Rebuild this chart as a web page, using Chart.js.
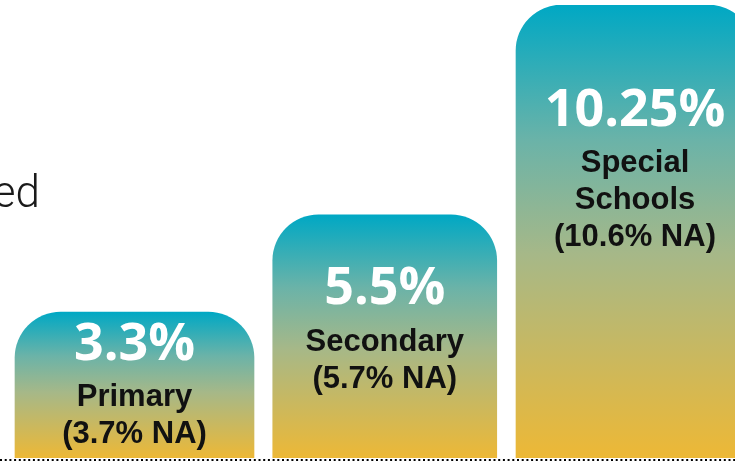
<!DOCTYPE html>
<html>
<head>
<meta charset="utf-8">
<script src="https://cdn.jsdelivr.net/npm/chart.js@4.4.1/dist/chart.umd.min.js"></script>
<style>
	html, body { margin:0; padding:0; background:#fff; overflow:hidden; }
	#wrap { position:relative; width:770px; height:464px; }
</style>
</head>
<body>
<div id="wrap"><canvas id="c"></canvas></div>
<script>
const categories = [['Primary'], ['Secondary'], ['Special', 'Schools']];
const rates = [3.3, 5.5, 10.25];
const naRates = [3.7, 5.7, 10.6];
const sideText = 'ed';

const warna = { top:'#00A8C4', dots:'#000', text:'#111' };
const barW = [239, 224, 238];

// gradient runs from each bar's own top down to the baseline
const barFill = c => {
	const chart = c.chart
	if (!chart.chartArea || c.raw == null) return '#EDB836'
	const y = chart.scales.y
	const g = chart.ctx.createLinearGradient(0, y.getPixelForValue(c.raw), 0, y.getPixelForValue(0))
	g.addColorStop(0, warna.top)
	g.addColorStop(0.3, '#6BB3A8')
	g.addColorStop(0.55, '#A6B888')
	g.addColorStop(1, '#EDB836')
	return g
}

const dotsLine = {
	id: 'dotsLine',
	beforeDatasetsDraw: chart => {
		const ctx = chart.ctx
		const y0 = chart.scales.y.getPixelForValue(0) + 2
		ctx.save()
		ctx.strokeStyle = warna.dots
		ctx.lineWidth = 2
		ctx.setLineDash([2, 2.7])
		ctx.beginPath()
		ctx.moveTo(0, y0)
		ctx.lineTo(chart.width, y0)
		ctx.stroke()
		ctx.restore()
	}
}

const barText = {
	id: 'barText',
	afterDatasetsDraw: chart => {
		const ctx = chart.ctx
		const pad = [29, 71, 102]
		ctx.save()
		ctx.textAlign = 'center'
		ctx.textBaseline = 'alphabetic'
		rates.forEach((v, i) => {
			const b = chart.getDatasetMeta(i).data[i]
			let yc = b.y + pad[i]
			ctx.fillStyle = '#fff'
			ctx.font = 'bold 52px "Open Sans"'
			ctx.fillText(v + '%', b.x, yc + 18.5)
			yc += 54
			ctx.fillStyle = warna.text
			ctx.font = 'bold 31px "Liberation Sans"'
			categories[i].concat('(' + naRates[i] + '% NA)').forEach(t => {
				ctx.fillText(t, b.x, yc + 11)
				yc += 37
			})
		})
		// cut-off caption at the left edge
		ctx.textAlign = 'right'
		ctx.fillStyle = '#1a1a1a'
		ctx.font = '300 44px Roboto'
		ctx.fillText(sideText, 40, 207)
		ctx.restore()
	}
}

new Chart(document.getElementById('c'), {
	type: 'bar',
	data: {
		labels: categories.map(a => a.join(' ')),
		// one dataset per bar so each bar can keep its own width
		datasets: rates.map((v, i) => ({
			data: rates.map((w, j) => j === i ? w : null),
			backgroundColor: barFill,
			borderWidth: 0,
			borderSkipped: 'bottom',
			borderRadius: { topLeft: 46, topRight: 46, bottomLeft: 0, bottomRight: 0 },
			grouped: false,
			barThickness: barW[i],
		}))
	},
	options: {
		responsive: true,
		maintainAspectRatio: false,
		animation: false,
		layout: { padding: { left: 9.375, right: 9.875, top: 5, bottom: 6 } },
		plugins: {
			legend: { display: false },
			tooltip: { enabled: false },
		},
		scales: {
			x: { display: false },
			y: { display: false, min: 0, max: 10.25 },
		},
	},
	plugins: [dotsLine, barText]
})
</script>
</body>
</html>
